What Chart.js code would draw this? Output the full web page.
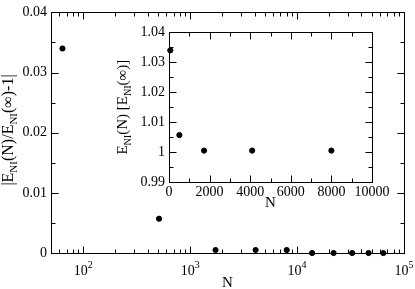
<!DOCTYPE html>
<html>
<head>
<meta charset="utf-8">
<script src="https://cdn.jsdelivr.net/npm/chart.js@4/dist/chart.umd.min.js"></script>
<style>
  body { margin: 0; background: #fff; }
  #wrap { position: relative; width: 415px; height: 289px; }
  #mainChart { position: absolute; left: 0; top: 0; }
  #insetChart { position: absolute; left: 110px; top: 20px; }
</style>
</head>
<body>
<div id="wrap">
  <canvas id="mainChart" width="415" height="289"></canvas>
  <canvas id="insetChart" width="290" height="200"></canvas>
</div>
<script>
  // system sizes N (they sit on n^3)
  const sizes = [64, 512, 1728, 4096, 8000, 13824, 21952, 32768, 46656, 64000];
  // |E_NI(N)/E_NI(inf) - 1|
  const relDev = [0.034, 0.0057, 0.0005, 0.0005, 0.0005, 0, 0, 0, 0, 0];
  // inset: E_NI(N) in units of E_NI(inf)
  const insetSizes = [64, 512, 1728, 4096, 8000];
  const insetRatio = [1.034, 1.0057, 1.0005, 1.0005, 1.0005];
  // tick labels
  const mainYTicks = [0, 0.01, 0.02, 0.03, 0.04];
  const mainXDecades = [2, 3, 4, 5];
  const insetYTicks = [0.99, 1, 1.01, 1.02, 1.03, 1.04];
  const insetXTicks = [0, 2000, 4000, 6000, 8000, 10000];

  const FONT = "Liberation Serif";
  Chart.defaults.font.family = FONT;
  Chart.defaults.font.size = 14;
  Chart.defaults.color = '#000';

  // text pieces with subscripts
  function richWidth(ctx, parts, size) {
    let w = 0;
    parts.forEach(p => {
      ctx.font = (p.sub ? Math.round(size * 0.68) : size) + 'px ' + FONT;
      w += ctx.measureText(p.t).width;
    });
    return w;
  }
  function drawRich(ctx, parts, x, y, size) {
    let cx = x;
    parts.forEach(p => {
      ctx.font = (p.sub ? Math.round(size * 0.68) : size) + 'px ' + FONT;
      ctx.fillText(p.t, cx, p.sub ? y + 4 : y);
      cx += ctx.measureText(p.t).width;
    });
  }
  function drawVertTitle(ctx, parts, x, yc, size) {
    ctx.save();
    ctx.translate(x, yc);
    ctx.rotate(-Math.PI / 2);
    ctx.textBaseline = 'alphabetic';
    ctx.textAlign = 'left';
    drawRich(ctx, parts, -richWidth(ctx, parts, size) / 2, 0, size);
    ctx.restore();
  }

  // frame with inward ticks on all four sides
  function drawFrame(chart, xMajor, xMinor, yMajor, yMinor) {
    const ctx = chart.ctx;
    const a = chart.chartArea;
    const xs = chart.scales.x, ys = chart.scales.y;
    const L = Math.round(a.left) + 0.5, R = Math.round(a.right) + 0.5;
    const T = Math.round(a.top) + 0.5, B = Math.round(a.bottom) + 0.5;
    ctx.save();
    ctx.strokeStyle = '#000';
    ctx.lineWidth = 1;
    ctx.strokeRect(L, T, R - L, B - T);
    ctx.beginPath();
    const tick = (vals, len, horiz) => {
      vals.forEach(v => {
        if (horiz) {
          const px = Math.round(xs.getPixelForValue(v)) + 0.5;
          ctx.moveTo(px, B); ctx.lineTo(px, B - len);
          ctx.moveTo(px, T); ctx.lineTo(px, T + len);
        } else {
          const py = Math.round(ys.getPixelForValue(v)) + 0.5;
          ctx.moveTo(L, py); ctx.lineTo(L + len, py);
          ctx.moveTo(R, py); ctx.lineTo(R - len, py);
        }
      });
    };
    tick(xMajor, 7, true);
    tick(xMinor, 4, true);
    tick(yMajor, 7, false);
    tick(yMinor, 4, false);
    ctx.stroke();
    ctx.restore();
  }

  function logTicks(min, max) {
    const major = [], minor = [];
    for (let d = 10; d <= 100000; d *= 10) {
      for (let m = 1; m <= 9; m++) {
        const v = m * d;
        if (v < min || v > max) continue;
        if (m === 1) major.push(v); else minor.push(v);
      }
    }
    return { major, minor };
  }
  function stepTicks(min, max, step) {
    const out = [];
    for (let v = min; v <= max + step / 2; v += step) out.push(Math.round(v * 100000) / 100000);
    return out;
  }

  const mainFrame = {
    id: 'mainFrame',
    afterDraw(chart) {
      const ctx = chart.ctx;
      const lt = logTicks(50, 100000);
      const yMinor = stepTicks(0.005, 0.035, 0.01);
      drawFrame(chart, lt.major, lt.minor, mainYTicks, yMinor);

      // decade labels 10^n
      const xs = chart.scales.x;
      ctx.save();
      ctx.fillStyle = '#000';
      ctx.textBaseline = 'alphabetic';
      mainXDecades.forEach(e => {
        const px = xs.getPixelForValue(Math.pow(10, e));
        ctx.font = '14px ' + FONT;
        const wb = ctx.measureText('10').width;
        ctx.font = '10px ' + FONT;
        const we = ctx.measureText(String(e)).width;
        const x0 = px - (wb + we) / 2;
        ctx.font = '14px ' + FONT;
        ctx.fillText('10', x0, 275);
        ctx.font = '10px ' + FONT;
        ctx.fillText(String(e), x0 + wb, 268);
      });
      ctx.font = '15px ' + FONT;
      ctx.textAlign = 'center';
      ctx.fillText('N', (chart.chartArea.left + chart.chartArea.right) / 2, 287);
      drawVertTitle(ctx, [
        { t: '|E' }, { t: 'NI', sub: true }, { t: '(N)/E' }, { t: 'NI', sub: true }, { t: '(\u221E)-1|' }
      ], 13, 130, 16);
      ctx.restore();
    }
  };

  const insetFrame = {
    id: 'insetFrame',
    afterDraw(chart) {
      const ctx = chart.ctx;
      drawFrame(chart, insetXTicks, stepTicks(1000, 9000, 2000),
                insetYTicks, stepTicks(0.995, 1.035, 0.01));
      ctx.save();
      ctx.fillStyle = '#000';
      ctx.font = '15px ' + FONT;
      ctx.textAlign = 'center';
      ctx.textBaseline = 'alphabetic';
      ctx.fillText('N', (chart.chartArea.left + chart.chartArea.right) / 2, 187);
      drawVertTitle(ctx, [
        { t: 'E' }, { t: 'NI', sub: true }, { t: '(N) [E' }, { t: 'NI', sub: true }, { t: '(\u221E)]' }
      ], 17, (chart.chartArea.top + chart.chartArea.bottom) / 2, 15);
      ctx.restore();
    }
  };

  const mainChart = new Chart(document.getElementById('mainChart'), {
    type: 'scatter',
    data: {
      datasets: [{
        data: sizes.map((n, i) => ({ x: n, y: relDev[i] })),
        backgroundColor: '#000',
        borderColor: '#000',
        pointRadius: 2.6,
        pointHoverRadius: 2.6,
        clip: false
      }]
    },
    options: {
      responsive: false,
      animation: false,
      devicePixelRatio: 1,
      layout: { padding: { top: 6, right: 11, left: 0, bottom: 0 } },
      plugins: { legend: { display: false }, tooltip: { enabled: false } },
      scales: {
        x: {
          type: 'logarithmic',
          min: 50,
          max: 100000,
          grid: { display: false, drawTicks: false },
          border: { display: false },
          ticks: { display: false },
          afterFit: s => { s.height = 36; }
        },
        y: {
          min: 0,
          max: 0.04,
          grid: { display: false, drawTicks: false },
          border: { display: false },
          afterBuildTicks: s => { s.ticks = mainYTicks.map(v => ({ value: v })); },
          ticks: {
            padding: 4,
            font: { size: 14 },
            callback: v => v === 0 ? '0' : v.toFixed(2)
          },
          afterFit: s => { s.width = 51; }
        }
      }
    },
    plugins: [mainFrame]
  });

  const insetChart = new Chart(document.getElementById('insetChart'), {
    type: 'scatter',
    data: {
      datasets: [{
        data: insetSizes.map((n, i) => ({ x: n, y: insetRatio[i] })),
        backgroundColor: '#000',
        borderColor: '#000',
        pointRadius: 2.6,
        pointHoverRadius: 2.6,
        clip: false
      }]
    },
    options: {
      responsive: false,
      animation: false,
      devicePixelRatio: 1,
      layout: { padding: { top: 9, right: 28, left: 0, bottom: 0 } },
      plugins: { legend: { display: false }, tooltip: { enabled: false } },
      scales: {
        x: {
          type: 'linear',
          min: 0,
          max: 10000,
          grid: { display: false, drawTicks: false },
          border: { display: false },
          afterBuildTicks: s => { s.ticks = insetXTicks.map(v => ({ value: v })); },
          ticks: { padding: 2, maxRotation: 0, autoSkip: false, font: { size: 14 },
                   callback: v => String(v) },
          afterFit: s => { s.height = 38; }
        },
        y: {
          min: 0.99,
          max: 1.04,
          grid: { display: false, drawTicks: false },
          border: { display: false },
          afterBuildTicks: s => { s.ticks = insetYTicks.map(v => ({ value: v })); },
          ticks: { padding: 4, font: { size: 14 },
                   callback: v => String(Math.round(v * 100) / 100) },
          afterFit: s => { s.width = 59; }
        }
      }
    },
    plugins: [insetFrame]
  });
</script>
</body>
</html>
